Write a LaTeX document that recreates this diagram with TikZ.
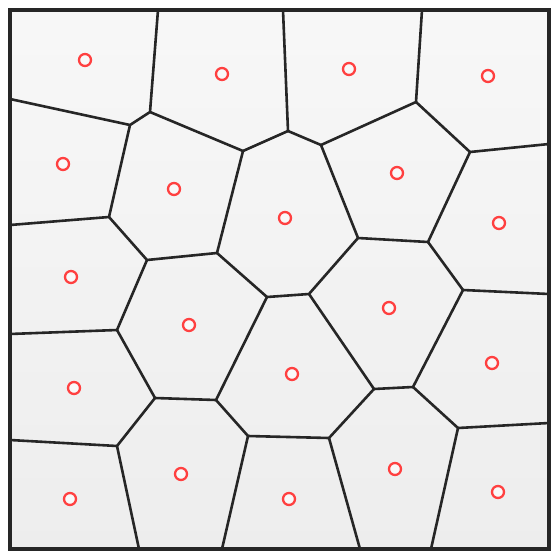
\documentclass[tikz,border=0pt]{standalone}
\usetikzlibrary{calc}
\begin{document}
\begin{tikzpicture}[x=1pt,y=-1pt,
  edge/.style={draw=black!85,line width=2.6pt,line join=round,line cap=round},
  site/.style={circle,draw=red!75!white,line width=2.3pt,minimum size=12pt,inner sep=0pt,fill=white!95!gray},
  frame/.style={draw=black!85,line width=3.2pt}]
\useasboundingbox (0,0) rectangle (552,552);
\fill[white] (0,0) rectangle (552,552);
\shade[top color=white!97!black,bottom color=white!93!black] (10,10) rectangle (549,549);
% vertices
\coordinate (v1) at (150,112);
\coordinate (v2) at (130,125);
\coordinate (v3) at (243,151);
\coordinate (v4) at (109,217);
\coordinate (v5) at (147,260);
\coordinate (v6) at (217,253);
\coordinate (v7) at (288,131);
\coordinate (v8) at (321,145);
\coordinate (v9) at (416,102);
\coordinate (v10) at (470,152);
\coordinate (v11) at (358,238);
\coordinate (v12) at (428,242);
\coordinate (v13) at (117,330);
\coordinate (v14) at (155,398);
\coordinate (v15) at (216,400);
\coordinate (v16) at (267,297);
\coordinate (v17) at (117,446);
\coordinate (v18) at (248,436);
\coordinate (v19) at (309,294);
\coordinate (v20) at (463,290);
\coordinate (v21) at (374,389);
\coordinate (v22) at (413,387);
\coordinate (v23) at (458,428);
\coordinate (v24) at (329,438);
% boundary points
\coordinate (t1) at (158,10);
\coordinate (t2) at (283,10);
\coordinate (t3) at (422,10);
\coordinate (l1) at (10,99);
\coordinate (l2) at (10,225);
\coordinate (l3) at (10,334);
\coordinate (l4) at (10,440);
\coordinate (r1) at (549,144);
\coordinate (r2) at (549,294);
\coordinate (r3) at (549,423);
\coordinate (b1) at (139,549);
\coordinate (b2) at (222,549);
\coordinate (b3) at (360,549);
\coordinate (b4) at (431,549);
% edges
\draw[edge] (t1) -- (v1) -- (v2) -- (l1);
\draw[edge] (v1) -- (v3) -- (v7) -- (t2);
\draw[edge] (v7) -- (v8) -- (v9) -- (t3);
\draw[edge] (v9) -- (v10) -- (r1);
\draw[edge] (v2) -- (v4) -- (l2);
\draw[edge] (v4) -- (v5) -- (v6) -- (v3);
\draw[edge] (v8) -- (v11) -- (v12) -- (v10);
\draw[edge] (v5) -- (v13) -- (l3);
\draw[edge] (v6) -- (v16) -- (v19) -- (v11);
\draw[edge] (v12) -- (v20) -- (r2);
\draw[edge] (v13) -- (v14) -- (v15) -- (v16);
\draw[edge] (v14) -- (v17) -- (l4);
\draw[edge] (v17) -- (b1);
\draw[edge] (v15) -- (v18) -- (b2);
\draw[edge] (v18) -- (v24) -- (v21) -- (v19);
\draw[edge] (v21) -- (v22) -- (v20);
\draw[edge] (v22) -- (v23) -- (r3);
\draw[edge] (v24) -- (b3);
\draw[edge] (v23) -- (b4);
\draw[frame] (10,10) rectangle (549,549);
% sites
\node[site] (s1) at (85,60) {};
\node[site] (s2) at (222,74) {};
\node[site] (s3) at (349,69) {};
\node[site] (s4) at (488,76) {};
\node[site] (s5) at (63,164) {};
\node[site] (s6) at (174,189) {};
\node[site] (s7) at (285,218) {};
\node[site] (s8) at (397,173) {};
\node[site] (s9) at (499,223) {};
\node[site] (s10) at (71,277) {};
\node[site] (s11) at (189,325) {};
\node[site] (s12) at (389,308) {};
\node[site] (s13) at (492,363) {};
\node[site] (s14) at (74,388) {};
\node[site] (s15) at (292,374) {};
\node[site] (s16) at (70,499) {};
\node[site] (s17) at (181,474) {};
\node[site] (s18) at (289,499) {};
\node[site] (s19) at (395,469) {};
\node[site] (s20) at (498,492) {};
\end{tikzpicture}
\end{document}
